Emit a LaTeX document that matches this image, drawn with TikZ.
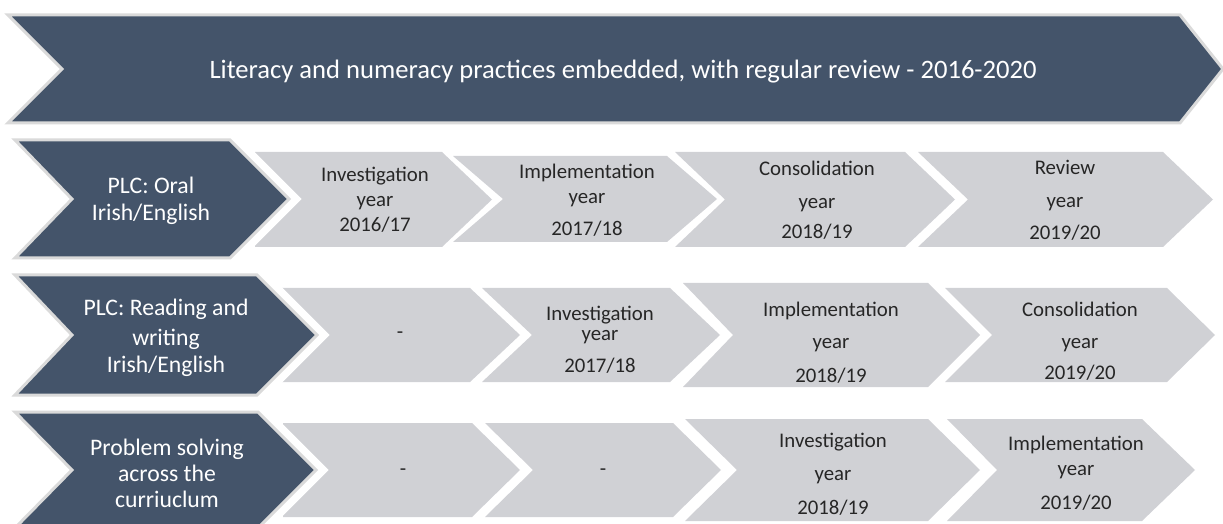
\documentclass[tikz,border=0pt]{standalone}
\usepackage{fontspec}
\setmainfont{Carlito}
\definecolor{slate}{HTML}{44546A}
\definecolor{silver}{HTML}{D0D1D5}
\definecolor{rim}{HTML}{DADADA}

\begin{document}
\begin{tikzpicture}[x=0.5pt,y=-0.5pt]
\tikzstyle{every node}+=[inner sep=0pt, align=center]
\tikzstyle{grey}=[fill=silver]
\tikzstyle{dark}=[fill=slate, draw=rim, line width=1.5pt, line join=miter]
\tikzstyle{lead}=[dark, preaction={draw=white, line width=9pt}]
\tikzstyle{head}=[text=white, font=\fontsize{13.3}{16}\selectfont]
\tikzstyle{topic}=[text=white, font=\fontsize{11.85}{13.5}\selectfont]
\tikzstyle{phase}=[text=black!85, font=\fontsize{10.4}{12.5}\selectfont]
\useasboundingbox (0,0) rectangle (1223,524);
% banner
\draw [dark] (8,15) -- (1180,15) -- (1223,69) -- (1180,123) -- (8,123) -- (62,69) -- cycle;
% row 1
\fill [grey] (255,152) -- (442,152) -- (492,199.5) -- (442,247) -- (255,247) -- cycle;
\fill [grey] (453,156) -- (667,156) -- (717,199) -- (667,242) -- (453,242) -- (503,199) -- cycle;
\fill [grey] (675,152) -- (905,152) -- (955,199.5) -- (905,247) -- (675,247) -- (725,199.5) -- cycle;
\fill [grey] (918,152) -- (1163,152) -- (1213,199.5) -- (1163,247) -- (918,247) -- (968,199.5) -- cycle;
% row 2
\fill [grey] (280,288) -- (470,288) -- (520,335) -- (470,382) -- (280,382) -- cycle;
\fill [grey] (482,288) -- (670,288) -- (720,335) -- (670,382) -- (482,382) -- (532,335) -- cycle;
\fill [grey] (683,283) -- (928,283) -- (980,335) -- (928,387) -- (683,387) -- (733,335) -- cycle;
\fill [grey] (945,288) -- (1167,288) -- (1215,335) -- (1167,382) -- (945,382) -- (992,335) -- cycle;
% row 3
\fill [grey] (283,423) -- (472,423) -- (520,470) -- (472,517) -- (283,517) -- cycle;
\fill [grey] (485,423) -- (673,423) -- (721,470) -- (673,517) -- (485,517) -- (533,470) -- cycle;
\fill [grey] (685,419) -- (928,419) -- (980,470) -- (928,521) -- (685,521) -- (737,470) -- cycle;
\fill [grey] (947,419) -- (1142,419) -- (1195,470) -- (1142,521) -- (947,521) -- (997,470) -- cycle;
% row heads
\draw [lead] (15,140) -- (230,140) -- (289,199) -- (230,258) -- (15,258) -- (72,199) -- cycle;
\draw [lead] (15,275) -- (257,275) -- (317,335) -- (257,395) -- (15,395) -- (72,335) -- cycle;
\draw [lead] (15,412) -- (258,412) -- (316,470) -- (258,528) -- (15,528) -- (72,470) -- cycle;
% texts
\node [head] (banner) at (623,72) {Literacy and numeracy practices embedded, with regular review - 2016-2020};
\node [topic] (oral) at (151,201) {PLC: Oral\\Irish/English};
\node [topic] (read) at (166,338) {PLC: Reading and\\[1.5pt]writing\\Irish/English};
\node [topic] (prob) at (167,473) {Problem solving\\[-0.5pt]across the\\[-0.5pt]curriuclum};
\node [phase] (o1) at (375,200) {Investigation\\year\\2016/17};
\node [phase] (o2) at (587,200) {Implementation\\year\\[3.5pt]2017/18};
\node [phase] (o3) at (817,200) {Consolidation\\[4pt]year\\[2.5pt]2018/19};
\node [phase] (o4) at (1065,200) {Review\\[4pt]year\\[3.5pt]2019/20};
\node [phase] (r1) at (400,335) {-};
\node [phase] (r2) at (600,340) {Investigation\\[-2.5pt]year\\[3.5pt]2017/18};
\node [phase] (r3) at (831,343) {Implementation\\[3.5pt]year\\[4.5pt]2018/19};
\node [phase] (r4) at (1080,341) {Consolidation\\[3.5pt]year\\[3pt]2019/20};
\node [phase] (p1) at (403,472) {-};
\node [phase] (p2) at (603,472) {-};
\node [phase] (p3) at (833,474) {Investigation\\[4pt]year\\[4.5pt]2018/19};
\node [phase] (p4) at (1076,473) {Implementation\\year\\[4.5pt]2019/20};
\end{tikzpicture}
\end{document}
